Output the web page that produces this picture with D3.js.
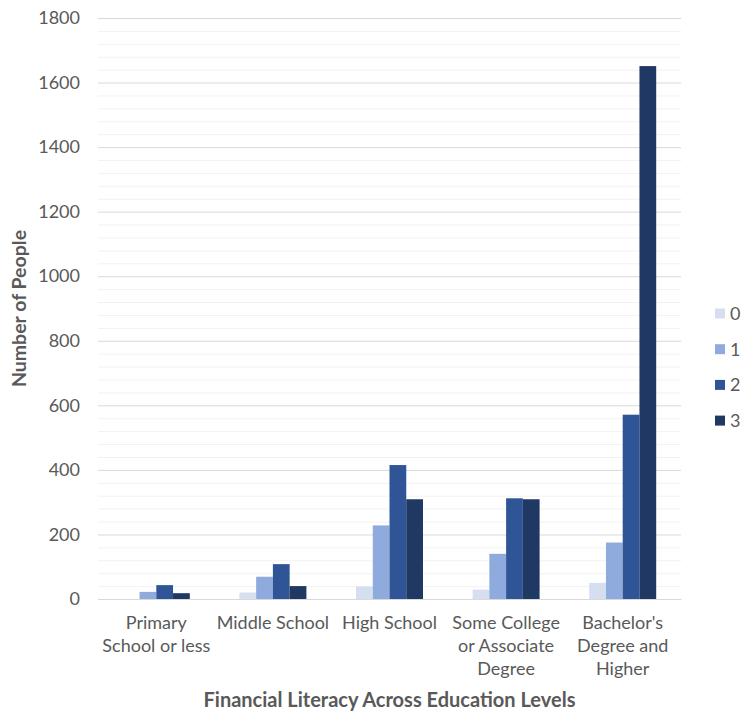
<!DOCTYPE html>
<html>
<head>
<meta charset="utf-8">
<script src="https://cdn.jsdelivr.net/npm/d3@7"></script>
<style>
  html, body { margin: 0; padding: 0; background: #ffffff; }
  svg { display: block; font-family: Lato, "Open Sans", sans-serif; }
</style>
</head>
<body>
<svg id="chart" width="742" height="711"></svg>
<script>
// Education levels (category axis), each label split into display lines
const categories = [
  ["Primary", "School or less"],
  ["Middle School"],
  ["High School"],
  ["Some College", "or Associate", "Degree"],
  ["Bachelor's", "Degree and", "Higher"]
];
// Financial literacy score groups
const seriesNames = ["0", "1", "2", "3"];
// Number of people per education level, one array per score
const score0 = [0, 20, 39, 29, 50];
const score1 = [22, 69, 228, 140, 175];
const score2 = [43, 108, 415, 312, 571];
const score3 = [18, 40, 309, 309, 1651];
const yTicks = [0, 200, 400, 600, 800, 1000, 1200, 1400, 1600, 1800];
const colors = ["#D6DFF0", "#8FAADC", "#2F5597", "#1F3864"];

const series = [score0, score1, score2, score3];
const catKeys = categories.map((c, i) => i);

const svg = d3.select("#chart");
const plotLeft = 98, plotRight = 681, plotTop = 18, plotBottom = 599;
const labelFont = 18;

const x = d3.scaleBand().domain(catKeys).range([plotLeft, plotRight]).padding(0);
const groupWidth = 67;
const xInner = d3.scaleBand().domain(seriesNames)
  .range([(x.bandwidth() - groupWidth) / 2, (x.bandwidth() + groupWidth) / 2]);
const y = d3.scaleLinear().domain([0, 1800]).range([plotBottom, plotTop]);

// minor gridlines
const minor = d3.range(0, 1801, 40).filter(v => v % 200 !== 0);
svg.append("g").selectAll("line").data(minor).join("line")
  .attr("x1", plotLeft).attr("x2", plotRight)
  .attr("y1", d => y(d) + 0.5).attr("y2", d => y(d) + 0.5)
  .attr("stroke", "#F2F2F2").attr("stroke-width", 1);

// major gridlines and y tick labels via axis
const yAxis = d3.axisLeft(y).tickValues(yTicks).tickFormat(d3.format("d"))
  .tickSize(-(plotRight - plotLeft)).tickPadding(18);
const gy = svg.append("g").attr("transform", `translate(${plotLeft},0)`).call(yAxis);
gy.select(".domain").remove();
gy.selectAll(".tick line").attr("stroke", "#D9D9D9").attr("stroke-width", 1);
gy.selectAll(".tick text")
  .attr("fill", "#595959").attr("font-size", labelFont)
  .attr("font-family", "Lato, 'Open Sans', sans-serif");

// bars
const groups = svg.append("g").selectAll("g").data(catKeys).join("g")
  .attr("transform", d => `translate(${x(d)},0)`);
groups.selectAll("rect")
  .data(ci => seriesNames.map((s, si) => ({ s, si, v: series[si][ci] })))
  .join("rect")
  .attr("x", d => xInner(d.s))
  .attr("width", xInner.bandwidth())
  .attr("y", d => y(d.v))
  .attr("height", d => y(0) - y(d.v))
  .attr("fill", d => colors[d.si]);

// category labels
const xAxis = d3.axisBottom(x).tickSize(0).tickFormat(() => "");
const gx = svg.append("g").attr("transform", `translate(0,${plotBottom})`).call(xAxis);
gx.select(".domain").attr("stroke", "#D9D9D9");
gx.selectAll(".tick").each(function (d) {
  const t = d3.select(this).append("text")
    .attr("text-anchor", "middle").attr("fill", "#595959")
    .attr("font-size", labelFont).attr("font-family", "Lato, 'Open Sans', sans-serif");
  categories[d].forEach((line, i) => {
    t.append("tspan").attr("x", 0).attr("y", 30 + i * 23).text(line);
  });
});

// axis titles
svg.append("text")
  .attr("transform", `translate(26,${(plotTop + plotBottom) / 2}) rotate(-90)`)
  .attr("text-anchor", "middle").attr("fill", "#595959")
  .attr("font-size", 19.5).attr("font-weight", "bold")
  .text("Number of People");
svg.append("text")
  .attr("x", (plotLeft + plotRight) / 2).attr("y", 707)
  .attr("text-anchor", "middle").attr("fill", "#595959")
  .attr("font-size", 20).attr("font-weight", "bold")
  .text("Financial Literacy Across Education Levels");

// legend
const legend = svg.append("g").selectAll("g").data(seriesNames).join("g")
  .attr("transform", (d, i) => `translate(715,${313.5 + i * 35.7})`);
legend.append("rect").attr("x", 0).attr("y", -5).attr("width", 10).attr("height", 10)
  .attr("fill", (d, i) => colors[i]);
legend.append("text").attr("x", 15).attr("y", 0).attr("dy", "0.36em")
  .attr("fill", "#595959").attr("font-size", labelFont).text(d => d);
</script>
</body>
</html>
